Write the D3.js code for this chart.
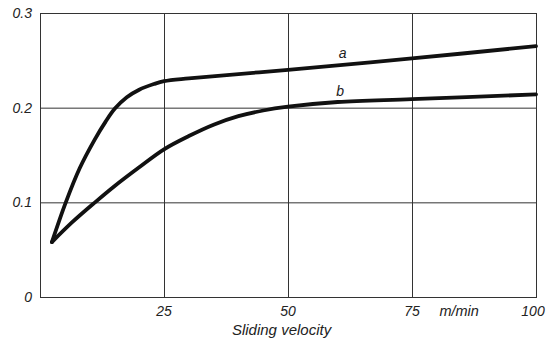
<!DOCTYPE html>
<html>
<head>
<meta charset="utf-8">
<script src="https://cdn.jsdelivr.net/npm/d3@7"></script>
<style>
  body { margin: 0; background: #fff; }
  text { font-family: "Liberation Sans", Arial, sans-serif; font-style: italic; fill: #222; }
</style>
</head>
<body>
<div id="chart"></div>
<script>

// values (x in m/min, y friction coefficient)
const velocityA = [2.4, 5.2, 8, 11, 13.2, 15.1, 17.5, 20, 23, 25, 30, 50, 75, 100];
const frictionA = [0.058, 0.1, 0.136, 0.166, 0.185, 0.199, 0.211, 0.219, 0.225, 0.228, 0.231, 0.240, 0.252, 0.265];

const velocityB = [2.4, 6.5, 11.1, 15, 20, 25, 30, 35, 40, 45, 50, 60, 75, 100];
const frictionB = [0.058, 0.079, 0.1, 0.117, 0.137, 0.156, 0.170, 0.182, 0.191, 0.197, 0.201, 0.206, 0.209, 0.214];

const xTicks = [25, 50, 75, 100];
const yTicks = [0, 0.1, 0.2, 0.3];
const yTickLabels = ["0", "0.1", "0.2", "0.3"];

// --------------------------------------
//  Canvas
// --------------------------------------

const width = 552;
const height = 343;
const margin = {top: 13, right: 16, bottom: 46, left: 40};

const svg = d3.select("#chart")
  .append("svg")
    .attr("width", width)
    .attr("height", height);

const x = d3.scaleLinear()
    .domain([0, 100])
    .range([margin.left, width - margin.right]);

const y = d3.scaleLinear()
    .domain([0, 0.3])
    .range([height - margin.bottom, margin.top]);

// grid
svg.selectAll(".vgrid")
  .data(xTicks)
  .join("line")
    .attr("class", "vgrid")
    .attr("x1", d => x(d) + 0.5)
    .attr("x2", d => x(d) + 0.5)
    .attr("y1", y(0))
    .attr("y2", y(0.3))
    .attr("stroke", "#333")
    .attr("stroke-width", 1);

svg.selectAll(".hgrid")
  .data(yTicks.slice(1))
  .join("line")
    .attr("class", "hgrid")
    .attr("x1", x(0))
    .attr("x2", x(100))
    .attr("y1", d => y(d) + 0.5)
    .attr("y2", d => y(d) + 0.5)
    .attr("stroke", "#333")
    .attr("stroke-width", 1);

// frame
svg.append("rect")
    .attr("x", x(0) + 0.5)
    .attr("y", y(0.3) + 0.5)
    .attr("width", x(100) - x(0))
    .attr("height", y(0) - y(0.3))
    .attr("fill", "none")
    .attr("stroke", "#333")
    .attr("stroke-width", 1);

// tick labels
svg.selectAll(".ylab")
  .data(yTicks)
  .join("text")
    .attr("class", "ylab")
    .attr("x", 32)
    .attr("y", d => y(d))
    .attr("dy", "0.35em")
    .attr("text-anchor", "end")
    .attr("font-size", 14)
    .text((d, i) => yTickLabels[i]);

svg.selectAll(".xlab")
  .data(xTicks)
  .join("text")
    .attr("class", "xlab")
    .attr("x", d => d === 100 ? x(d) - 3 : x(d))
    .attr("y", y(0) + 14)
    .attr("dy", "0.35em")
    .attr("text-anchor", "middle")
    .attr("font-size", 14)
    .text(d => d);

svg.append("text")
    .attr("x", x(84.5))
    .attr("y", y(0) + 14)
    .attr("dy", "0.35em")
    .attr("text-anchor", "middle")
    .attr("font-size", 14.5)
    .text("m/min");

svg.append("text")
    .attr("x", x(48.7))
    .attr("y", y(0) + 33)
    .attr("dy", "0.35em")
    .attr("text-anchor", "middle")
    .attr("font-size", 15)
    .text("Sliding velocity");

// curves
const line = d3.line()
    .x(d => x(d[0]))
    .y(d => y(d[1]))
    .curve(d3.curveCatmullRom.alpha(0.5));

const seriesA = velocityA.map((v, i) => [v, frictionA[i]]);
const seriesB = velocityB.map((v, i) => [v, frictionB[i]]);

svg.selectAll(".curve")
  .data([seriesA, seriesB])
  .join("path")
    .attr("class", "curve")
    .attr("d", line)
    .attr("fill", "none")
    .attr("stroke", "#111")
    .attr("stroke-width", 3.8)
    .attr("stroke-linecap", "round")
    .attr("stroke-linejoin", "round");

svg.append("text")
    .attr("x", x(61))
    .attr("y", y(0.252))
    .attr("text-anchor", "middle")
    .attr("font-size", 14)
    .text("a");

svg.append("text")
    .attr("x", x(60.5))
    .attr("y", y(0.212))
    .attr("text-anchor", "middle")
    .attr("font-size", 14)
    .text("b");

</script>
</body>
</html>
